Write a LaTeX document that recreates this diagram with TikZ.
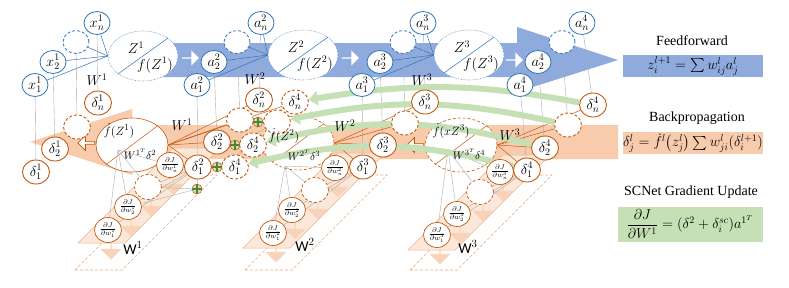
\documentclass[tikz,border=0pt]{standalone}
\usepackage{amsmath,amssymb}
\usepackage{fontspec}
\setmainfont{Liberation Serif}
\newfontfamily\fontecalibri{Carlito}
\usepackage{xcolor}
\usepackage{tikz}
\usetikzlibrary{arrows.meta,shapes.geometric,shapes.arrows}
\pgfdeclarelayer{fundo}
\pgfdeclarelayer{meio}
\pgfdeclarelayer{setas}
\pgfsetlayers{fundo,meio,setas,main}
\definecolor{azulno}{RGB}{46,117,182}
\definecolor{azulfaixa}{RGB}{143,170,220}
\definecolor{laranja}{RGB}{197,90,17}
\definecolor{laranjafaixa}{RGB}{248,203,173}
\definecolor{verdefaixa}{RGB}{197,224,180}
\definecolor{verdesoma}{RGB}{84,130,53}
\tikzset{
    neuronio/.style={
        ellipse,
        draw=azulno,
        line width=0.8pt,
        fill=white,
        minimum width=26pt,
        minimum height=23pt,
        inner sep=0pt,
        font=\fontsize{14}{14}\selectfont
    },
    neuronioVazio/.style={neuronio, densely dashed},
    delta/.style={
        ellipse,
        draw=laranja,
        line width=0.9pt,
        fill=white,
        minimum width=27pt,
        minimum height=24pt,
        inner sep=0pt,
        font=\fontsize{14}{14}\selectfont
    },
    deltaVazio/.style={delta, densely dashed},
    gradiente/.style={delta, line width=0.7pt, minimum height=25pt, font=\fontsize{9.5}{9.5}\selectfont},
    gradienteVazio/.style={gradiente, densely dashed},
    soma/.style={
        circle,
        draw=laranja,
        line width=0.5pt,
        fill=verdefaixa,
        minimum size=10pt,
        inner sep=0pt,
        path picture={\draw[verdesoma, line width=1.6pt]
            (path picture bounding box.north) -- (path picture bounding box.south)
            (path picture bounding box.west) -- (path picture bounding box.east);}
    },
    elipseZ/.style={ellipse, draw=azulno!80, densely dotted, line width=0.6pt, fill=white, minimum width=70pt, minimum height=50pt},
    elipseF/.style={ellipse, draw=laranja, line width=0.6pt, fill=white, minimum width=72pt, minimum height=54pt},
    elipseFVazia/.style={elipseF, densely dashed},
    ligaAzul/.style={draw=azulno, line width=0.5pt},
    ligaCinza/.style={draw=gray!65, line width=0.4pt},
    ligaLaranja/.style={draw=laranja, line width=0.5pt},
    arcoVerde/.style={draw=verdefaixa, line width=6pt, -{Triangle[width=14pt,length=9pt]}},
    setaBranca/.style={single arrow, fill=white, minimum height=17pt, minimum width=15pt, single arrow head extend=2pt, inner sep=0pt},
    setaBaixo/.style={single arrow, fill=laranjafaixa!85, shape border rotate=270, minimum height=18pt, minimum width=21pt, single arrow head extend=3pt, inner sep=0pt},
    plano/.style={fill=laranjafaixa!45, draw=laranjafaixa!80!laranja, line width=0.5pt},
    planoTracejado/.style={draw=laranjafaixa!70!laranja, densely dashed, line width=0.6pt},
    rotulo/.style={font=\fontsize{14}{14}\selectfont, inner sep=1pt},
    textoElipse/.style={font=\fontsize{14}{14}\selectfont, inner sep=0pt},
    textoPeso/.style={font=\fontsize{11}{11}\selectfont, inner sep=0pt},
    titulo/.style={font=\fontsize{14}{14}\selectfont},
    caixa/.style={minimum width=140pt, minimum height=22pt, inner sep=0pt, font=\fontsize{14}{14}\selectfont}
}

\begin{document}
\begin{tikzpicture}[x=1pt, y=-1pt]
    \useasboundingbox (0,0) rectangle (789,287);

    % elipses (camada do meio)
    \begin{pgfonlayer}{meio}
        \node[elipseZ] (Z1) at (143,56) {};
        \node[elipseZ] (Z2) at (303,55) {};
        \node[elipseZ] (Z3) at (469,55) {};
        \node[elipseF] (F1) at (132,145) {};
        \node[elipseFVazia] (F2) at (298,143) {};
        \node[elipseFVazia] (F3) at (461,145) {};
    \end{pgfonlayer}

    % feedforward
    \node[neuronio] (x1) at (35,85) {$x_1^1$};
    \node[neuronio] (x2) at (53,62) {$x_2^1$};
    \node[neuronioVazio] (x3) at (76,42) {};
    \node[neuronio] (xn) at (97,23) {$x_n^1$};
    \node[neuronio] (a21) at (197,85) {$a_1^2$};
    \node[neuronio] (a22) at (214,62) {$a_2^2$};
    \node[neuronioVazio] (a23) at (237,42) {};
    \node[neuronio] (a2n) at (261,23) {$a_n^2$};
    \node[neuronio] (a31) at (362,85) {$a_1^3$};
    \node[neuronio] (a32) at (380,62) {$a_2^3$};
    \node[neuronioVazio] (a33) at (403,42) {};
    \node[neuronio] (a3n) at (423,23) {$a_n^3$};
    \node[neuronio] (a41) at (520,85) {$a_1^4$};
    \node[neuronio] (a42) at (538,62) {$a_2^4$};
    \node[neuronioVazio] (a43) at (562,42) {};
    \node[neuronio] (a4n) at (582,23) {$a_n^4$};

    \node[textoElipse] (z1t) at ([shift={(-7,-8)}]Z1.center) {$Z^1$};
    \node[textoElipse] (z1f) at ([shift={(12,9)}]Z1.center) {$f(Z^1)$};
    \node[textoElipse] (z2t) at ([shift={(-7,-8)}]Z2.center) {$Z^2$};
    \node[textoElipse] (z2f) at ([shift={(12,9)}]Z2.center) {$f(Z^2)$};
    \node[textoElipse] (z3t) at ([shift={(-7,-8)}]Z3.center) {$Z^3$};
    \node[textoElipse] (z3f) at ([shift={(12,9)}]Z3.center) {$f(Z^3)$};

    \node[rotulo] (w1a) at (97,80) {$W^1$};
    \node[rotulo] (w2a) at (255,79) {$W^2$};
    \node[rotulo] (w3a) at (422,80) {$W^3$};

    % backpropagation
    \node[delta] (d11) at (36,172) {$\delta_1^1$};
    \node[delta] (d12) at (55,149) {$\delta_2^1$};
    \node[deltaVazio] (d13) at (77,127) {};
    \node[delta] (d1n) at (98,103) {$\delta_n^1$};
    \node[delta] (d21) at (198,167) {$\delta_1^2$};
    \node[delta] (d22) at (217,142) {$\delta_2^2$};
    \node[deltaVazio] (d23) at (240,120) {};
    \node[delta] (d2n) at (259,100) {$\delta_n^2$};
    \node[delta] (d31) at (363,167) {$\delta_1^3$};
    \node[delta] (d32) at (383,145) {$\delta_2^3$};
    \node[deltaVazio] (d33) at (405,123) {};
    \node[delta] (d3n) at (425,102) {$\delta_n^3$};
    \node[delta] (d41) at (527,170) {$\delta_1^4$};
    \node[delta] (d42) at (545,148) {$\delta_2^4$};
    \node[deltaVazio] (d43) at (568,125) {};
    \node[delta] (d4n) at (593,105) {$\delta_n^4$};

    % atalho do SCNet
    \node[deltaVazio] (c41) at (235,167) {$\delta_1^4$};
    \node[deltaVazio] (c42) at (253,145) {$\delta_2^4$};
    \node[deltaVazio] (c43) at (277,122) {};
    \node[deltaVazio] (c4n) at (295,102) {$\delta_n^4$};
    \node[soma] (s1) at (217,167) {};
    \node[soma] (s2) at (235,145) {};
    \node[soma] (s3) at (258,122) {};
    \node[soma] (s4) at (197,189) {};

    \node[textoElipse, font=\fontsize{13}{13}\selectfont] (f1t) at ([shift={(-13,-14)}]F1.center) {$\dot f(Z^1)$};
    \node[textoPeso] (f1w) at ([shift={(8,9)}]F1.center) {$W^{1^T}\delta^2$};
    \node[textoElipse, font=\fontsize{13}{13}\selectfont] (f2t) at ([shift={(-14,-7)}]F2.center) {$\dot f(Z^2)$};
    \node[textoPeso] (f2w) at ([shift={(6,12)}]F2.center) {$W^{2^T}\delta^3$};
    \node[textoElipse, font=\fontsize{13}{13}\selectfont] (f3t) at ([shift={(-10,-14)}]F3.center) {$\dot f(xZ^3)$};
    \node[textoPeso] (f3w) at ([shift={(8,9)}]F3.center) {$W^{3^T}\delta^4$};

    \node[rotulo] (w1b) at (182,125) {$W^1$};
    \node[rotulo] (w2b) at (345,126) {$W^2$};
    \node[rotulo] (w3b) at (510,135) {$W^3$};

    % gradientes
    \node[gradiente] (g11) at (108,230) {$\frac{\partial J}{\partial w_1^1}$};
    \node[gradiente] (g12) at (128,207) {$\frac{\partial J}{\partial w_2^1}$};
    \node[gradienteVazio] (g13) at (148,187) {};
    \node[gradiente] (g1n) at (170,165) {$\frac{\partial J}{\partial w_n^1}$};
    \node[gradiente] (g21) at (273,233) {$\frac{\partial J}{\partial w_1^2}$};
    \node[gradiente] (g22) at (292,210) {$\frac{\partial J}{\partial w_2^2}$};
    \node[gradienteVazio] (g23) at (315,190) {};
    \node[gradiente] (g2n) at (335,168) {$\frac{\partial J}{\partial w_n^2}$};
    \node[gradiente] (g31) at (437,235) {$\frac{\partial J}{\partial w_1^3}$};
    \node[gradiente] (g32) at (457,214) {$\frac{\partial J}{\partial w_2^3}$};
    \node[gradienteVazio] (g33) at (480,192) {};
    \node[gradiente] (g3n) at (500,172) {$\frac{\partial J}{\partial w_n^3}$};

    \node[font=\fontsize{15}{15}\fontecalibri] (w1c) at (133,248) {W$^1$};
    \node[font=\fontsize{15}{15}\fontecalibri] (w2c) at (305,245) {W$^2$};
    \node[font=\fontsize{15}{15}\fontecalibri] (w3c) at (468,247) {W$^3$};

    % legenda
    \node[titulo] (tff) at (692,41) {Feedforward};
    \node[caixa, fill=azulfaixa] (cff) at (693,66) {$z_i^{l+1} = \sum w_{ij}^l a_j^l$};
    \node[titulo] (tbp) at (697,118) {Backpropagation};
    \node[caixa, fill=laranjafaixa] (cbp) at (693,143) {$\delta_j^l = \dot f^l\big(z_j^l\big)\sum w_{ji}^l(\delta_i^{l+1})$};
    \node[titulo] (tsc) at (691,192) {SCNet Gradient Update};
    \node[caixa, fill=verdefaixa, minimum width=145pt, minimum height=35pt] (csc) at (690,224) {$\dfrac{\partial J}{\partial W^1} = (\delta^2 + \delta_i^{sc})a^{1^T}$};

    % faixas, planos e setas de fundo
    \begin{pgfonlayer}{fundo}
        \fill[azulfaixa] (150,43) -- (517,43) -- (517,27) -- (618,60) -- (517,92) -- (517,77) -- (150,77) -- cycle;
        \fill[laranjafaixa] (30,142) -- (132,109) -- (132,125) -- (618,125) -- (618,159) -- (132,159) -- (132,175) -- cycle;
        \draw[planoTracejado] (75,270) -- (122,270) -- (217,175) -- (170,175) -- cycle;
        \draw[planoTracejado] (245,270) -- (292,270) -- (387,175) -- (340,175) -- cycle;
        \draw[planoTracejado] (410,270) -- (457,270) -- (552,175) -- (505,175) -- cycle;
        \draw[plano] (78,243) -- (125,243) -- (220,148) -- (173,148) -- cycle;
        \draw[plano] (243,248) -- (290,248) -- (385,153) -- (338,153) -- cycle;
        \draw[plano] (408,250) -- (455,250) -- (550,155) -- (503,155) -- cycle;
        \foreach \g in {g11,g12,g13,g1n,g21,g22,g23,g2n,g31,g32,g33,g3n}
            \node[setaBaixo] (seta\g) at ([shift={(3,20)}]\g) {};
        \node[setaBranca] (sb1) at (190,58) {};
        \node[setaBranca] (sb2) at (350,58) {};
        \node[setaBranca] (sb3) at (514,60) {};
        \node[setaBranca, draw=laranja, line width=0.8pt, shape border rotate=180] (sl1) at (87,143) {};
        \node[setaBranca, draw=laranja, line width=0.8pt, shape border rotate=180] (sl2) at (416,145) {};
    \end{pgfonlayer}

    % ligacoes
    \begin{pgfonlayer}{meio}
        \draw[ligaAzul] (Z1.south west) -- (Z1.north east);
        \draw[ligaAzul] (Z2.south west) -- (Z2.north east);
        \draw[ligaAzul] (Z3.south west) -- (Z3.north east);
        \draw[ligaLaranja] (F1.south west) -- (F1.north east);
        \draw[ligaLaranja] (F2.south west) -- (F2.north east);
        \draw[ligaLaranja] (F3.south west) -- (F3.north east);
        \foreach \n in {x1,x2,x3,xn} \draw[ligaAzul] (\n) -- (Z1.west);
        \foreach \n in {a21,a22,a23,a2n} \draw[ligaAzul] (\n) -- (Z2.west);
        \foreach \n in {a31,a32,a33,a3n} \draw[ligaAzul] (\n) -- (Z3.west);
        \foreach \a/\d in {x1/d11,x2/d12,x3/d13,xn/d1n,a21/d21,a22/d22,a23/d23,a2n/d2n,
                a31/d31,a32/d32,a33/d33,a3n/d3n,a41/d41,a42/d42,a43/d43,a4n/d4n}
            \draw[ligaCinza] (\a) -- (\d);
        \foreach \d in {d21,d22,d23,d2n,c4n} \draw[ligaLaranja] (F1.east) -- (\d);
        \foreach \d in {d31,d32,d33,d3n} \draw[ligaLaranja] (F2.east) -- (\d);
        \foreach \d in {d41,d42,d43,d4n} \draw[ligaLaranja] (F3.east) -- (\d);
        \coordinate (fc1) at (118,150);
        \coordinate (fc2) at (285,166);
        \coordinate (fc3) at (448,150);
        \foreach \g in {g11,g12,g13,g1n} \draw[ligaCinza] (fc1) -- (\g);
        \foreach \g in {g21,g22,g23,g2n} \draw[ligaCinza] (fc2) -- (\g);
        \foreach \g in {g31,g32,g33,g3n} \draw[ligaCinza] (fc3) -- (\g);
        \foreach \g in {g11,g12,g13} \draw[ligaCinza] (d21) -- (\g);
        \foreach \g in {g21,g22,g23} \draw[ligaCinza] (d31) -- (\g);
        \foreach \g in {g31,g32,g33} \draw[ligaCinza] (d41) -- (\g);
        \draw[ligaCinza] (s1) -- (c42);
        \draw[ligaCinza] (s2) -- (c43);
        \draw[ligaCinza] (s3) -- (c4n);
        \draw[ligaCinza] (s4) -- (d21);
        \draw[ligaCinza] (s4) -- (g12);
        \draw[ligaCinza] (s4) -- (g13);
    \end{pgfonlayer}

    % setas verdes do atalho
    \begin{pgfonlayer}{setas}
        \draw[arcoVerde] (d4n) to[bend right=10] (c4n);
        \draw[arcoVerde] (d43) to[bend right=12] (c43);
        \draw[arcoVerde] (d42) to[bend right=14] (c42);
        \draw[arcoVerde] (d41) to[bend right=14] (c41);
    \end{pgfonlayer}
\end{tikzpicture}
\end{document}
